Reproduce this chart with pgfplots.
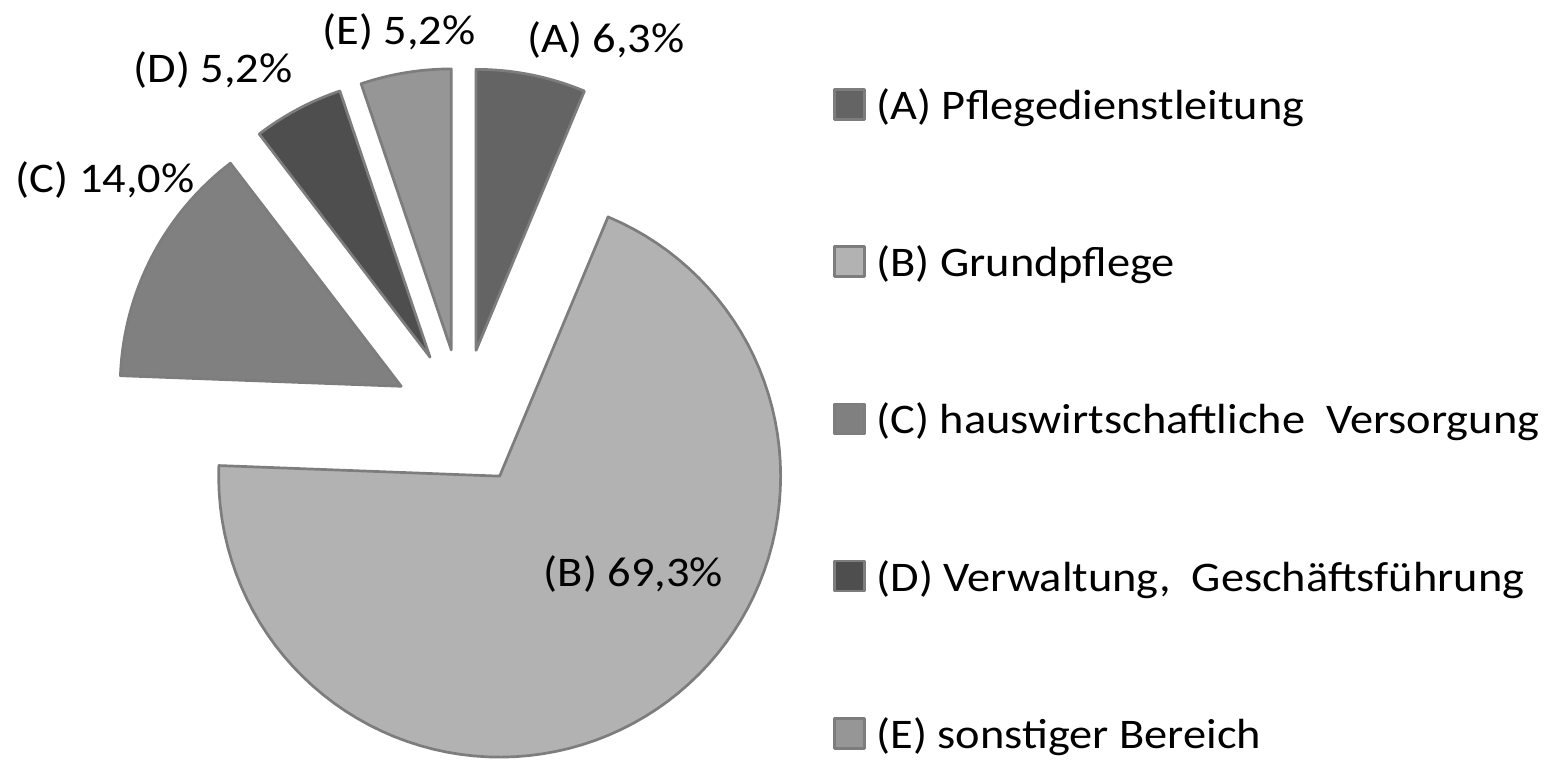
\documentclass[border=0pt]{standalone}
\usepackage{pgfplots}
\pgfplotsset{compat=1.18}
\usepackage{fontspec}
\setmainfont{Carlito}[FakeStretch=1.10]
\definecolor{edge}{HTML}{7D7D7D}
\definecolor{cA}{HTML}{646464}
\definecolor{cB}{HTML}{B2B2B2}
\definecolor{cC}{HTML}{808080}
\definecolor{cD}{HTML}{4E4E4E}
\definecolor{cE}{HTML}{969696}
% shares in percent
\def\vA{6.3}\def\vB{69.3}\def\vC{14.0}\def\vD{5.2}\def\vE{5.2}
% geometry (axis units = pixels)
\def\Cx{462.5}\def\Cy{-418}\def\R{281}\def\Ex{69}
\pgfmathsetmacro\aA{90}
\pgfmathsetmacro\aB{\aA-3.6*\vA}
\pgfmathsetmacro\aC{\aB-3.6*\vB}
\pgfmathsetmacro\aD{\aC-3.6*\vC}
\pgfmathsetmacro\aE{\aD-3.6*\vD}
\pgfmathsetmacro\aF{\aE-3.6*\vE}
\newcommand\slice[3]{%
  \pgfmathsetmacro\slmid{(#1+#2)/2}%
  \pgfmathsetmacro\slx{\Cx+\Ex*cos(\slmid)}%
  \pgfmathsetmacro\sly{\Cy+\Ex*sin(\slmid)}%
  \edef\doslice{\noexpand\addplot[fill=#3, draw=edge, line width=0.27mm, line join=round,
    domain=#2:#1, samples=90, variable=\noexpand\t]
    ({\slx+\R*cos(\noexpand\t)},{\sly+\R*sin(\noexpand\t)}) -- (axis cs:\slx,\sly) -- cycle;}%
  \doslice}
\newcommand\lblfont{\fontsize{12pt}{14pt}\selectfont}
\begin{document}
\begin{tikzpicture}
\useasboundingbox (0,0) rectangle (154.9mm,76.4mm);
\begin{axis}[at={(0,0)}, anchor=south west, scale only axis,
  width=154.9mm, height=76.4mm, xmin=0, xmax=1549, ymin=-764, ymax=0,
  hide axis, clip=false,
  legend image code/.code={\draw[#1, line width=0.25mm] (0mm,0mm) rectangle (3.0mm,3.0mm);},
  legend style={at={(axis cs:833,-87.5)}, anchor=north west, draw=none, fill=none,
    font=\lblfont, row sep=11.62mm, column sep=1.1mm, inner sep=0pt, outer sep=0pt,
    cells={anchor=base west},
    nodes={inner sep=0pt, outer sep=0pt, text height=3.2mm, text depth=0.9mm}},
]
\slice{\aA}{\aB}{cA}
\addlegendentry{(A) Pflegedienstleitung}
\slice{\aB}{\aC}{cB}
\addlegendentry{(B) Grundpflege}
\slice{\aC}{\aD}{cC}
\addlegendentry{(C) hauswirtschaftliche\ \ Versorgung}
\slice{\aD}{\aE}{cD}
\addlegendentry{(D) Verwaltung,\ \ Geschäftsführung}
\slice{\aE}{\aF}{cE}
\addlegendentry{(E) sonstiger Bereich}
\begin{scope}[every node/.style={anchor=base west, inner sep=0pt, font=\lblfont}]
\node at (axis cs:526.7,-52.3) {(A) 6,3\%};
\node at (axis cs:543,-586.7) {(B) 69,3\%};
\node at (axis cs:15,-193) {(C) 14,0\%};
\node at (axis cs:133,-83) {(D) 5,2\%};
\node at (axis cs:321.7,-44.3) {(E) 5,2\%};
\end{scope}
\end{axis}
\end{tikzpicture}
\end{document}
